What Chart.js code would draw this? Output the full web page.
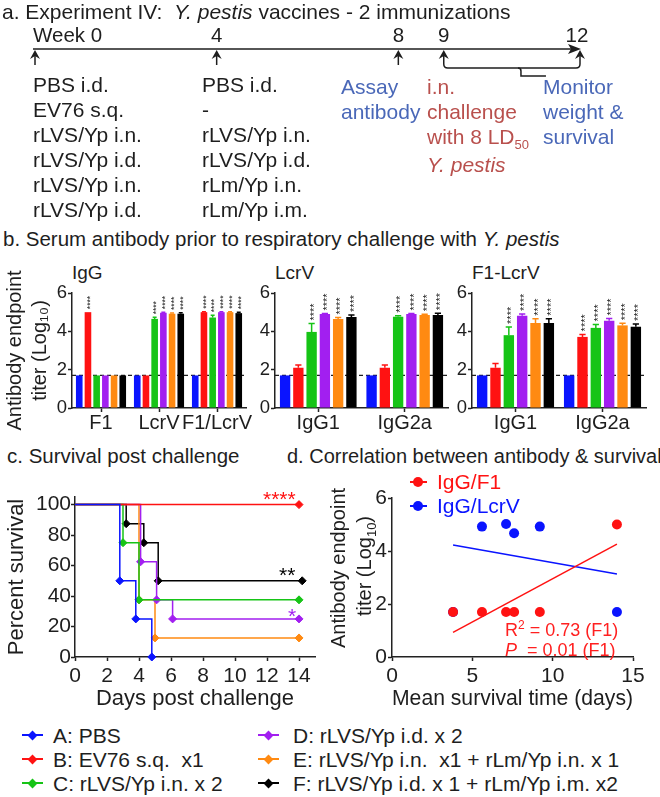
<!DOCTYPE html>
<html><head><meta charset="utf-8">
<script src="https://cdn.jsdelivr.net/npm/chart.js@4.4.1/dist/chart.umd.min.js"></script>
<style>
html,body{margin:0;padding:0;background:#fff}
body{width:660px;height:797px;position:relative;overflow:hidden;font-family:"Liberation Sans",Arial,sans-serif;color:#1e1e1e}
.t{position:absolute;white-space:pre;line-height:1;font-size:20px}
.rows{line-height:25px;font-size:21px}
canvas{position:absolute}
.blue{color:#4a68b8}.red{color:#b9504d}
.sub{font-size:13px;position:relative;top:5px}
.sup{font-size:12px;position:relative;top:-7px}
.mk{position:absolute}
.rot{position:absolute;white-space:pre;font-size:20px;line-height:1;transform:translate(-50%,-50%) rotate(-90deg)}
</style></head><body>
<canvas id="tl" width="660" height="70" style="left:0;top:20px"></canvas>
<div class="t" style="left:2px;top:1px;font-size:21px">a. Experiment IV:  <i>Y. pestis</i> vaccines - 2 immunizations</div>
<div class="t rows" style="left:33px;top:72px">PBS i.d.
EV76 s.q.
rLVS/Yp i.n.
rLVS/Yp i.d.
rLVS/Yp i.n.
rLVS/Yp i.d.</div>
<div class="t rows" style="left:202px;top:72px">PBS i.d.
-
rLVS/Yp i.n.
rLVS/Yp i.d.
rLm/Yp i.n.
rLm/Yp i.m.</div>
<div class="t rows blue" style="left:341px;top:74px">Assay
antibody</div>
<div class="t rows red" style="left:427px;top:74px">i.n.
challenge
with 8 LD<span class="sub">50</span>
<i>Y. pestis</i></div>
<div class="t rows blue" style="left:543px;top:74px">Monitor
weight &amp;
survival</div>

<div class="t" style="left:3px;top:229px;font-size:20.5px">b. Serum antibody prior to respiratory challenge with <i>Y. pestis</i></div>
<div class="t" style="left:72px;top:263px;font-size:19px">IgG</div>
<div class="t" style="left:275px;top:263px;font-size:19px">LcrV</div>
<div class="t" style="left:472px;top:263px;font-size:19px">F1-LcrV</div>
<canvas id="b1" width="255" height="190" style="left:0;top:250px"></canvas>
<canvas id="b2" width="230" height="190" style="left:230px;top:250px"></canvas>
<canvas id="b3" width="230" height="190" style="left:430px;top:250px"></canvas>

<div class="t" style="left:7px;top:446px;font-size:20.5px">c. Survival post challenge</div>
<div class="t" style="left:287px;top:446px;font-size:20px">d. Correlation between antibody &amp; survival</div>
<canvas id="surv" width="330" height="240" style="left:0;top:470px"></canvas>
<canvas id="corr" width="340" height="240" style="left:320px;top:470px"></canvas>
<div class="rot" style="left:338px;top:568px">Antibody endpoint</div>
<div class="rot" style="left:364px;top:566px">titer (Log<span style="font-size:13px;position:relative;top:5px">10</span>)</div>
<div class="t" style="left:263px;top:488px;font-size:21px;color:#ff1212">****</div>
<div class="t" style="left:279px;top:564px;font-size:21px;color:#000">**</div>
<div class="t" style="left:288px;top:605px;font-size:21px;color:#a21ff0">*</div>

<div class="mk" style="left:410px;top:481px;width:17px;height:2px;background:#ff1212"></div>
<div class="mk" style="left:413px;top:477px;width:10px;height:10px;border-radius:50%;background:#ff1212"></div>
<div class="t" style="left:437px;top:471px;font-size:21px;color:#ff1212">IgG/F1</div>
<div class="mk" style="left:410px;top:505px;width:17px;height:2px;background:#0a14ff"></div>
<div class="mk" style="left:413px;top:501px;width:10px;height:10px;border-radius:50%;background:#0a14ff"></div>
<div class="t" style="left:437px;top:495px;font-size:21px;color:#0a14ff">IgG/LcrV</div>
<div class="t" style="left:505px;top:621px;font-size:18px;color:#ff2020">R<span class="sup">2</span> = 0.73 (F1)</div>
<div class="t" style="left:505px;top:641px;font-size:18px;color:#ff2020"><i>P</i>  = 0.01 (F1)</div>

<div id="legend"></div>

<script>
const FONT = '"Liberation Sans", Arial, sans-serif';
Chart.defaults.font.family = FONT;
Chart.defaults.color = '#1e1e1e';

// ---------- groups ----------
const groupLabels = ['A: PBS', 'B: EV76 s.q.  x1', 'C: rLVS/Yp i.n. x 2', 'D: rLVS/Yp i.d. x 2',
  'E: rLVS/Yp i.n.  x1 + rLm/Yp i.n. x 1', 'F: rLVS/Yp i.d. x 1 + rLm/Yp i.m. x2'];
const groupColors = ['#0a14ff', '#ff1212', '#16c416', '#a21ff0', '#ff8a12', '#000000'];

// ---------- timeline (weeks) ----------
const timelineWeeks = [0, 4, 8, 9, 12];
const timelineLabels = ['Week 0', '4', '8', '9', '12'];
const bracketTipWeek = 10.7;

// ---------- panel b ----------
const lod = 1.7;
const titerTicks = [0, 2, 4, 6];
// IgG
const iggCats = ['F1', 'LcrV', 'F1/LcrV'];
const iggA = [1.7, 1.7, 1.7], iggB = [5.0, 1.7, 5.0], iggC = [1.7, 4.65, 4.72],
      iggD = [1.7, 4.97, 5.0], iggE = [1.7, 4.92, 5.0], iggF = [1.7, 4.92, 4.95];
const iggErrA = [0, 0, 0], iggErrB = [0, 0, 0.02], iggErrC = [0, 0.08, 0.12],
      iggErrD = [0, 0.03, 0.02], iggErrE = [0, 0.04, 0.02], iggErrF = [0, 0.05, 0.04];
const iggStars = [[0, 0, 0], [4, 0, 4], [0, 4, 4], [0, 4, 4], [0, 4, 4], [0, 4, 4]];
// LcrV
const subCats = ['IgG1', 'IgG2a'];
const lcrA = [1.7, 1.7], lcrB = [2.1, 2.1], lcrC = [3.97, 4.76], lcrD = [4.9, 4.9], lcrE = [4.65, 4.85], lcrF = [4.75, 4.85];
const lcrErrA = [0, 0], lcrErrB = [0.15, 0.15], lcrErrC = [0.44, 0.05], lcrErrD = [0.03, 0.03], lcrErrE = [0.07, 0.04], lcrErrF = [0.1, 0.1];
const lcrStars = [[0, 0], [0, 0], [4, 4], [4, 4], [4, 4], [4, 4]];
// F1-LcrV
const flA = [1.7, 1.7], flB = [2.1, 3.71], flC = [3.8, 4.18], flD = [4.81, 4.55], flE = [4.44, 4.31], flF = [4.44, 4.24];
const flErrA = [0, 0], flErrB = [0.22, 0.13], flErrC = [0.43, 0.18], flErrD = [0.1, 0.12], flErrE = [0.22, 0.11], flErrF = [0.22, 0.14];
const flStars = [[0, 0], [0, 4], [4, 4], [4, 4], [4, 4], [4, 4]];

// ---------- panel c: survival ----------
const survDaysA = [0, 2.8, 3.8, 4.8],           survPctA = [100, 50, 25, 0];
const survDaysB = [0, 14],                      survPctB = [100, 100];
const survDaysC = [0, 3.0, 4.0, 14],            survPctC = [100, 75, 37.5, 37.5];
const survDaysD = [0, 4.1, 5.1, 6.1, 14],       survPctD = [100, 62.5, 37.5, 25, 25];
const survDaysE = [0, 4.0, 5.0, 14],            survPctE = [100, 37.5, 12.5, 12.5];
const survDaysF = [0, 3.2, 4.3, 5.2, 14.2],     survPctF = [100, 87.5, 75, 50, 50];
const survXTicks = [0, 2, 4, 6, 8, 10, 12, 14];
const survYTicks = [0, 20, 40, 60, 80, 100];

// ---------- panel d: correlation ----------
const mstF1 = [3.8, 5.6, 7.1, 7.6, 9.2, 14.0],   titerF1 = [1.7, 1.7, 1.7, 1.7, 1.7, 5.0];
const mstLcrV = [3.8, 5.6, 7.1, 7.6, 9.2, 14.0], titerLcrV = [1.7, 4.92, 5.02, 4.67, 4.92, 1.7];
const fitF1X = [3.8, 14.0],   fitF1Y = [0.93, 4.26];
const fitLcrVX = [3.8, 14.0], fitLcrVY = [4.23, 3.13];
const corrXTicks = [0, 5, 10, 15];

// ---------- helpers ----------
const zip = (xs, ys) => xs.map((x, i) => ({x, y: ys[i]}));
const fix = (w, h) => s => {
  if (w != null) s.width = w;
  if (h != null) s.height = h;
  s.paddingLeft = s.paddingRight = s.paddingTop = s.paddingBottom = 0;
};
const setTicks = arr => s => { s.ticks = arr.map(v => ({value: v})); };
const axisGrid = {display: true, drawOnChartArea: false, drawTicks: true, tickLength: 4, tickWidth: 1.5, tickColor: '#222', offset: false};
const axisBorder = {display: true, color: '#222', width: 1.5};

// ---------- timeline ----------
const timelinePlugin = {
  id: 'timeline',
  afterDraw(chart) {
    const {ctx, chartArea: {top}, scales: {x}} = chart;
    const px = timelineWeeks.map(w => x.getPixelForValue(w));
    const xEnd = px[px.length - 1];
    ctx.save();
    ctx.strokeStyle = '#1e1e1e'; ctx.fillStyle = '#1e1e1e'; ctx.lineWidth = 1.5;
    ctx.beginPath(); ctx.moveTo(px[0] - 2, top); ctx.lineTo(xEnd - 4, top); ctx.stroke();
    ctx.beginPath(); ctx.moveTo(xEnd + 1, top); ctx.lineTo(xEnd - 12, top - 5); ctx.lineTo(xEnd - 9, top); ctx.lineTo(xEnd - 12, top + 5); ctx.closePath(); ctx.fill();
    const yb = top + 19;
    px.forEach((p, i) => {
      const bottom = i >= 3 ? yb - 4 : top + 16;
      ctx.beginPath(); ctx.moveTo(p, top + 6); ctx.lineTo(p, bottom); ctx.stroke();
      ctx.beginPath(); ctx.moveTo(p, top + 1); ctx.lineTo(p - 5, top + 10); ctx.lineTo(p, top + 7); ctx.lineTo(p + 5, top + 10); ctx.closePath(); ctx.fill();
    });
    const x9 = px[3], x12 = px[4], xt = x.getPixelForValue(bracketTipWeek);
    ctx.beginPath();
    ctx.moveTo(x9, yb - 4); ctx.quadraticCurveTo(x9, yb, x9 + 4, yb);
    ctx.lineTo(x12 - 4, yb); ctx.quadraticCurveTo(x12, yb, x12, yb - 4);
    ctx.stroke();
    ctx.beginPath();
    ctx.moveTo(xt - 3, yb); ctx.quadraticCurveTo(xt, yb, xt, yb + 3);
    ctx.lineTo(xt, yb + 8); ctx.lineTo(xt + 25, yb + 8);
    ctx.stroke();
    ctx.font = '20.5px ' + FONT; ctx.textBaseline = 'alphabetic';
    timelineLabels.forEach((l, i) => {
      ctx.textAlign = i === 0 ? 'left' : 'center';
      ctx.fillText(l, i === 0 ? px[i] - 2 : px[i] - (i === 4 ? 3 : 0), top - 7);
    });
    ctx.restore();
  }
};
new Chart(document.getElementById('tl'), {
  type: 'scatter',
  data: {datasets: [{data: timelineWeeks.map(w => ({x: w, y: 0})), pointRadius: 0}]},
  options: {
    responsive: false, animation: false,
    layout: {autoPadding: false, padding: {left: 35, right: 80, top: 29, bottom: 0}},
    plugins: {legend: {display: false}, tooltip: {enabled: false}},
    scales: {x: {type: 'linear', min: 0, max: 12, display: false}, y: {min: 0, max: 1, display: false}}
  },
  plugins: [timelinePlugin]
});

// ---------- bar charts ----------
const barExtras = {
  id: 'barExtras',
  beforeDatasetsDraw(chart) {
    const {ctx, chartArea, scales: {y}} = chart;
    const yl = y.getPixelForValue(lod);
    ctx.save(); ctx.setLineDash([4, 3]); ctx.strokeStyle = '#1e1e1e'; ctx.lineWidth = 1.3;
    ctx.beginPath(); ctx.moveTo(chartArea.left, yl); ctx.lineTo(chartArea.right, yl); ctx.stroke();
    ctx.restore();
  },
  afterDatasetsDraw(chart, args, opts) {
    const {ctx, scales: {y}} = chart;
    const fs = opts.starSize;
    chart.data.datasets.forEach((ds, di) => {
      const meta = chart.getDatasetMeta(di);
      meta.data.forEach((bar, j) => {
        const v = ds.data[j], e = ds.errs[j];
        let top = bar.y;
        if (e > 0) {
          const ye = y.getPixelForValue(v + e);
          const hw = bar.width * 0.3;
          ctx.save(); ctx.strokeStyle = ds.backgroundColor; ctx.lineWidth = 1.5;
          ctx.beginPath(); ctx.moveTo(bar.x, bar.y); ctx.lineTo(bar.x, ye);
          ctx.moveTo(bar.x - hw, ye); ctx.lineTo(bar.x + hw, ye); ctx.stroke(); ctx.restore();
          top = ye;
        }
        const n = ds.stars[j];
        if (n) {
          ctx.save(); ctx.translate(bar.x, top - 3); ctx.rotate(-Math.PI / 2);
          ctx.font = fs + 'px ' + FONT; ctx.fillStyle = '#222';
          ctx.textAlign = 'left'; ctx.textBaseline = 'alphabetic';
          ctx.fillText('*'.repeat(n), 0, 0.57 * fs); ctx.restore();
        }
      });
    });
  }
};

function barChart(id, cats, vals, errs, stars, o) {
  return new Chart(document.getElementById(id), {
    type: 'bar',
    data: {
      labels: cats,
      datasets: vals.map((v, i) => ({
        label: groupLabels[i], data: v, backgroundColor: groupColors[i], borderWidth: 0,
        categoryPercentage: o.cp, barPercentage: o.bp, errs: errs[i], stars: stars[i]
      }))
    },
    options: {
      responsive: false, animation: false,
      layout: {autoPadding: false, padding: {top: 43, right: o.pr, left: 0, bottom: 0}},
      plugins: {legend: {display: false}, tooltip: {enabled: false}, barExtras: {starSize: o.star}},
      scales: {
        x: {
          grid: axisGrid, border: axisBorder, z: 1,
          ticks: {font: {size: 20, lineHeight: 1}, padding: 1, color: '#1e1e1e', maxRotation: 0, autoSkip: false},
          afterFit: fix(null, 32)
        },
        y: {
          min: 0, max: 6, afterBuildTicks: setTicks(titerTicks),
          grid: axisGrid, border: axisBorder,
          ticks: {font: {size: 18.5}, padding: 1, color: '#1e1e1e'},
          title: o.title ? {display: true, text: ['Antibody endpoint', 'titer (Log\u2081\u2080)'], font: {size: 20, lineHeight: 1.25}, padding: {top: 2.5, bottom: 0}, color: '#1e1e1e'} : {display: false},
          afterFit: fix(o.yw, null)
        }
      }
    },
    plugins: [barExtras]
  });
}
barChart('b1', iggCats, [iggA, iggB, iggC, iggD, iggE, iggF], [iggErrA, iggErrB, iggErrC, iggErrD, iggErrE, iggErrF], iggStars,
  {cp: 0.9, bp: 0.76, pr: 9, yw: 72, star: 8.5, title: true});
barChart('b2', subCats, [lcrA, lcrB, lcrC, lcrD, lcrE, lcrF], [lcrErrA, lcrErrB, lcrErrC, lcrErrD, lcrErrE, lcrErrF], lcrStars,
  {cp: 0.92, bp: 0.78, pr: 12, yw: 45, star: 11, title: false});
barChart('b3', subCats, [flA, flB, flC, flD, flE, flF], [flErrA, flErrB, flErrC, flErrD, flErrE, flErrF], flStars,
  {cp: 0.92, bp: 0.78, pr: 14, yw: 42, star: 11, title: false});

// ---------- survival ----------
const survSets = [[survDaysA, survPctA], [survDaysB, survPctB], [survDaysC, survPctC], [survDaysD, survPctD], [survDaysE, survPctE], [survDaysF, survPctF]];
new Chart(document.getElementById('surv'), {
  type: 'line',
  data: {
    datasets: survSets.map(([d, p], i) => ({
      label: groupLabels[i], data: zip(d, p), stepped: true, borderColor: groupColors[i], backgroundColor: groupColors[i],
      borderWidth: 1.5, fill: false, pointStyle: 'rectRot', pointRadius: c => c.dataIndex === 0 ? 0 : 4,
      pointBorderWidth: 1, pointBackgroundColor: groupColors[i], pointBorderColor: groupColors[i], clip: false
    }))
  },
  options: {
    responsive: false, animation: false,
    layout: {autoPadding: false, padding: {top: 27, right: 15, left: 0, bottom: 0}},
    plugins: {legend: {display: false}, tooltip: {enabled: false}},
    scales: {
      x: {
        type: 'linear', min: 0, max: 15, afterBuildTicks: setTicks(survXTicks),
        grid: axisGrid, border: axisBorder,
        ticks: {font: {size: 21, lineHeight: 1.2}, padding: 3, color: '#1e1e1e', maxRotation: 0, autoSkip: false},
        title: {display: true, text: 'Days post challenge', font: {size: 22, lineHeight: 1}, padding: {top: 0, bottom: 0}, color: '#1e1e1e'},
        afterFit: fix(null, 53)
      },
      y: {
        min: 0, max: 105, afterBuildTicks: setTicks(survYTicks),
        grid: axisGrid, border: axisBorder,
        ticks: {font: {size: 21}, padding: 0, color: '#1e1e1e'},
        title: {display: true, text: 'Percent survival', font: {size: 22, lineHeight: 1}, padding: {top: 5.5, bottom: 0}, color: '#1e1e1e'},
        afterFit: fix(75, null)
      }
    }
  }
});

// ---------- correlation ----------
new Chart(document.getElementById('corr'), {
  type: 'scatter',
  data: {
    datasets: [
      {label: 'IgG/F1', data: zip(mstF1, titerF1), pointRadius: 5, pointBackgroundColor: '#ff1212', pointBorderWidth: 0, clip: false},
      {label: 'IgG/LcrV', data: zip(mstLcrV, titerLcrV), pointRadius: 5, pointBackgroundColor: '#0a14ff', pointBorderWidth: 0, clip: false},
      {type: 'line', label: 'F1 fit', data: zip(fitF1X, fitF1Y), borderColor: '#ff1212', borderWidth: 1.5, pointRadius: 0},
      {type: 'line', label: 'LcrV fit', data: zip(fitLcrVX, fitLcrVY), borderColor: '#0a14ff', borderWidth: 1.5, pointRadius: 0}
    ]
  },
  options: {
    responsive: false, animation: false,
    layout: {autoPadding: false, padding: {top: 28, right: 27, left: 0, bottom: 0}},
    plugins: {legend: {display: false}, tooltip: {enabled: false}},
    scales: {
      x: {
        type: 'linear', min: 0, max: 15, afterBuildTicks: setTicks(corrXTicks),
        grid: axisGrid, border: axisBorder,
        ticks: {font: {size: 21, lineHeight: 1.2}, padding: 3, color: '#1e1e1e', maxRotation: 0, autoSkip: false},
        title: {display: true, text: 'Mean survival time (days)', font: {size: 22, lineHeight: 1}, padding: {top: 0, bottom: 0}, color: '#1e1e1e'},
        afterFit: fix(null, 53)
      },
      y: {
        min: 0, max: 6, afterBuildTicks: setTicks(titerTicks),
        grid: axisGrid, border: axisBorder,
        ticks: {font: {size: 21}, padding: 1, color: '#1e1e1e'},
        title: {display: false},
        afterFit: fix(72, null)
      }
    }
  }
});

// ---------- shared legend ----------
const leg = document.getElementById('legend');
groupLabels.forEach((lab, i) => {
  const col = i < 3 ? 0 : 1, row = i % 3;
  const lx = col === 0 ? 22 : 258, tx = col === 0 ? 53 : 293;
  const cy = 735 + 24 * row;
  const line = document.createElement('div');
  line.className = 'mk';
  line.style.cssText = `left:${lx}px;top:${cy - 1}px;width:21px;height:2px;background:${groupColors[i]}`;
  const dia = document.createElement('div');
  dia.className = 'mk';
  dia.style.cssText = `left:${lx + 7}px;top:${cy - 3.5}px;width:7px;height:7px;background:${groupColors[i]};transform:rotate(45deg)`;
  const txt = document.createElement('div');
  txt.className = 't';
  txt.style.cssText = `left:${tx}px;top:${cy - 10.5}px;font-size:21px`;
  txt.textContent = lab;
  leg.append(line, dia, txt);
});
</script>
</body></html>
